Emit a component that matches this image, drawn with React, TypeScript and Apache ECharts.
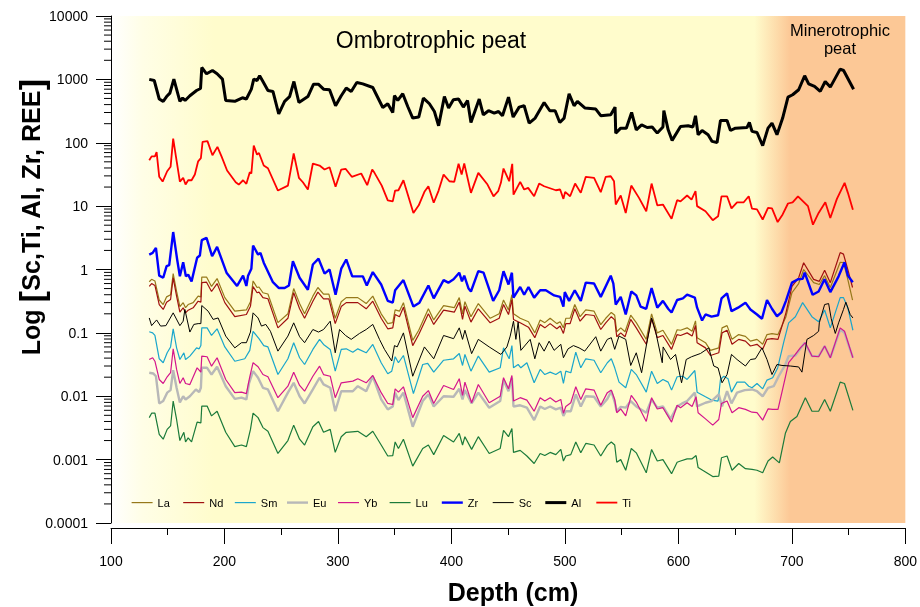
import React, { useEffect, useRef } from "react";
import * as echarts from "echarts";

// Depth (cm) vs concentration pairs
const al: [number, number][] = [[133.7,1000],[138.1,960],[142.5,490],[146,450],[149,535],[151.9,607],[155.4,1010],[160.7,450],[163.1,507],[165.3,465],[169.5,552],[175.4,668],[178.9,718],[180,1540],[184.2,1225],[189.4,1380],[193.5,1225],[198.2,1010],[201.1,465],[209.1,450],[215.8,512],[219.3,490],[223.7,700],[225.8,1010],[228.7,960],[231,1140],[233.9,925],[238.3,668],[242.7,645],[247.8,286],[253,450],[257.4,535],[261.2,925],[265.6,432],[273.5,535],[278.5,840],[282.7,840],[287.3,700],[292.6,686],[297.9,383],[302.9,552],[307.3,728],[311.7,645],[316.6,894],[321.9,850],[330.7,745],[339.5,360],[343.9,412],[348.3,300],[349.8,552],[352.7,465],[357.1,593],[361.5,373],[365.9,245],[371.2,254],[375.3,507],[380.6,412],[385,311],[388.7,185],[393.8,535],[397.5,353],[401.7,476],[406.3,490],[410.5,365],[414.2,465],[417.2,209],[424.5,490],[428.1,276],[432.7,320],[437.7,294],[441.5,311],[445,267],[450.3,525],[454.4,254],[459.7,365],[464.1,383],[468.5,204],[473.8,245],[481.7,432],[486.7,320],[491.4,320],[495.5,209],[499.3,245],[503.7,593],[508.1,383],[511,450],[517.8,353],[527.2,340],[531.6,267],[540.4,276],[544.2,365],[544.8,142],[549.2,170],[554.1,170],[558.8,300],[562.9,160],[567.6,192],[572.5,174],[576.9,177],[581.4,142],[586.4,177],[587.2,323],[591,160],[594.5,109],[601.9,181],[608.6,185],[612.8,177],[615.1,267],[617.4,134],[620.9,156],[626.2,134],[629.7,105],[634.1,101],[637.1,225],[642.9,225],[645.9,156],[650.3,170],[660.5,174],[662.6,209],[664.9,151],[669.3,145],[674.3,90],[679,170],[682.5,204],[686.9,134],[691.9,245],[696.6,525],[700.7,572],[706,686],[711.3,1140],[714.8,850],[720,773],[725,645],[729.4,925],[733.9,755],[742.6,1450],[745.6,1380],[754.4,700]];

const ti: [number, number][] = [[133.7,53],[135.8,61],[138.7,61],[140.2,71],[142.5,29],[145.5,24.4],[149.5,35.5],[152.5,41.7],[154.8,116],[157.2,61],[160.7,24.4],[163.6,28],[165.7,21.9],[168,25.6],[171,25.6],[173.9,31.5],[176.8,51],[179.2,57],[180.7,103],[185,106],[189.4,63.5],[193.8,86],[197.4,61],[202.3,36.5],[209.9,23.8],[212.6,21.9],[216.4,25.6],[219.3,22.5],[222.3,34.3],[223.7,32.7],[225.8,90],[228.7,65],[230.4,69],[234.6,43.7],[238.3,39.6],[247.1,17.6],[255.9,21.1],[261,67.6],[265.6,28],[269.1,23.8],[273.5,18.3],[277.9,47],[283.8,43.7],[288.2,37.8],[292.6,41],[297.9,20.2],[302.9,37.8],[306.7,38.8],[312.2,29],[320.5,32.7],[325.8,21.4],[330.2,37.8],[332.2,33.5],[338.6,21.1],[343.9,12.3],[348.3,11.9],[350.4,17.6],[353.3,17.8],[357.7,25.6],[366.5,7.8],[371.2,10.3],[376.2,16.8],[379.7,20.6],[384.4,11.3],[388.7,17.6],[393.1,31.5],[398.2,24.7],[402.5,24.2],[406.3,46.5],[409,31.5],[411.3,47],[417.2,16.2],[423.7,33.5],[431.8,21.9],[437.1,14.3],[441.2,17.2],[443.6,23.3],[445.9,39.2],[450.9,24.7],[453.6,46.5],[454.7,15.2],[460.6,24.2],[464.1,18.3],[467.6,19.4],[472.9,14.3],[477.3,22.7],[481.7,20.6],[492,17.8],[495.8,18.3],[498.7,13],[500.2,16.8],[504.6,14.3],[509,22.7],[514,16.2],[518.4,29],[525.7,28],[531.6,16.6],[536,29],[540.4,29.6],[543.3,24.7],[544.8,10.6],[549.2,14.7],[553.6,7.8],[558.5,21.1],[565.3,13.5],[571.7,8.3],[576.4,22.7],[581.4,10.3],[586.4,10.6],[594,6.3],[598.9,12.4],[601.9,11.9],[607.7,14.7],[611.6,12.7],[615.1,17.2],[616.5,10],[623.9,8.3],[630.3,6],[635,6.9],[638,14.3],[642.9,14.3],[646.8,9.2],[651.7,11.5],[657.6,11.5],[662,14.3],[664.9,9.1],[669.3,8.9],[674.3,6.15],[679,9.4],[682.5,9.2],[687.5,5.6],[691.9,7.4],[696.6,11],[700.7,11.5],[705.4,14.3],[714.2,10],[718.6,5.1],[723.6,7.8],[729.5,11.5],[733.9,6.5],[739.7,13],[746.5,23.3],[749.4,16.2],[753.8,8.8]];

const zr: [number, number][] = [[133.7,1.72],[136.7,1.83],[139.6,2.2],[142.5,0.8],[146,0.74],[149,1.13],[151.3,1.17],[154.8,3.9],[158.3,1.44],[160.7,0.78],[163.6,1.3],[166,0.78],[168,0.83],[171,0.65],[175.9,1.53],[178.3,1.66],[180,2.9],[184.2,3.16],[189.1,1.62],[193.5,2.28],[201.8,0.89],[211.1,0.55],[216.4,0.8],[219.3,0.55],[220.8,0.8],[223.7,1.03],[225.2,2.39],[229.6,1.72],[231.7,1.83],[234.6,1.28],[242.7,0.63],[248,0.51],[253,0.51],[256.8,0.56],[260.3,1.35],[266.2,0.74],[273.5,0.48],[277.9,1.2],[282.9,1.48],[288.2,0.86],[292.6,1.0],[297.9,0.4],[302.9,1.03],[307.3,1.44],[312.6,0.78],[321.9,0.78],[325.4,0.56],[330.7,0.91],[338.1,0.58],[343.9,0.32],[348.3,0.3],[350.4,0.47],[357.7,0.68],[366.5,0.26],[371.8,0.3],[379.7,0.56],[384.4,0.35],[393.1,0.68],[397.3,0.62],[401.9,0.7],[406.9,0.89],[409.3,0.65],[411.3,0.8],[415.1,0.5],[417.2,0.45],[423.7,0.94],[428.3,0.89],[436.8,0.32],[442.1,0.47],[445.9,0.94],[450.3,0.58],[453.3,0.89],[454.7,0.36],[460.6,0.53],[464.1,0.4],[467.9,0.53],[472.9,0.36],[478.2,0.47],[483.2,0.47],[490.5,0.39],[495.8,0.37],[498.7,0.26],[499.9,0.44],[503.7,0.32],[508.7,0.47],[514,0.32],[518.4,0.62],[525.7,0.6],[531.6,0.37],[540.4,0.8],[542.7,0.6],[544.8,0.28],[549.2,0.37],[553.6,0.195],[558.5,0.45],[562.9,0.39],[566.7,0.26],[571.7,0.24],[576.4,0.51],[581.4,0.25],[586.4,0.32],[591,0.24],[594,0.21],[598.9,0.33],[604,0.35],[607.7,0.4],[614.5,0.36],[616.5,0.25],[620.9,0.157],[623.9,0.195],[629.2,0.18],[635,0.19],[638,0.35],[642.9,0.42],[646.8,0.22],[652.6,0.25],[659.1,0.3],[663.5,0.234],[669.3,0.195],[673.7,0.167],[678.1,0.33],[682.5,0.24],[686.9,0.183],[690.8,0.21],[694.8,0.32],[700.1,0.62],[705.4,0.7],[709.5,0.71],[711.3,0.89],[718.3,0.4],[723.6,0.45],[728.8,0.7],[733.9,0.44],[741.2,0.78],[746.4,1.3],[749.4,0.8],[753.7,0.63]];

const nd: [number, number][] = [[133.7,0.54],[135.8,0.6],[138.7,0.56],[142.5,0.28],[146,0.234],[149,0.305],[152.5,0.336],[154.8,0.74],[157.8,0.38],[160.7,0.212],[163.6,0.249],[165.7,0.207],[168,0.228],[172.4,0.249],[176.8,0.316],[179.2,0.305],[180,0.62],[184.2,0.63],[188.6,0.45],[193.5,0.6],[200.3,0.3],[209.1,0.18],[219.3,0.195],[222.9,0.264],[225.2,0.54],[228.7,0.43],[230.4,0.44],[233.9,0.36],[238.3,0.345],[247.1,0.12],[255.9,0.17],[261,0.43],[266.2,0.24],[270.6,0.17],[277.9,0.316],[282.3,0.44],[287.3,0.345],[292,0.345],[297.6,0.14],[302.9,0.26],[307.3,0.3],[317.5,0.3],[324.9,0.24],[330.7,0.316],[338.1,0.17],[343.9,0.116],[348.3,0.12],[350.4,0.195],[354.2,0.18],[357.7,0.254],[365.9,0.063],[371.2,0.094],[379.7,0.2],[384.4,0.136],[393.1,0.228],[402.5,0.212],[406.9,0.305],[409.8,0.163],[411.9,0.264],[417.2,0.148],[423.7,0.24],[434.2,0.144],[442.1,0.17],[445.9,0.28],[450.3,0.195],[453.3,0.336],[454.7,0.163],[460.6,0.144],[467.9,0.123],[473.5,0.084],[478.2,0.136],[482.3,0.12],[487,0.14],[492.9,0.116],[495.8,0.128],[498.7,0.098],[500.8,0.14],[504.6,0.14],[508.7,0.24],[513.4,0.153],[518.4,0.195],[525.7,0.188],[531.6,0.113],[536,0.144],[540.9,0.18],[543.9,0.16],[545.7,0.087],[549.2,0.1],[553,0.087],[558,0.163],[562.9,0.12],[571.7,0.066],[576.4,0.167],[581.4,0.084],[586.4,0.091],[594,0.055],[598.9,0.094],[601.9,0.091],[607.7,0.1],[612.1,0.089],[615.1,0.131],[616.5,0.07],[623.9,0.058],[628.3,0.044],[635.6,0.0485],[638.5,0.1],[642.9,0.11],[647.3,0.066],[653.2,0.079],[659.1,0.074],[663.5,0.062],[669.3,0.066],[674.3,0.055],[678.1,0.079],[682.5,0.081],[687.8,0.079],[694.8,0.207],[700.1,0.54],[706,0.74],[710.4,1.28],[719.2,0.7],[724.2,0.65],[728.9,0.97],[733.9,0.62],[742.6,1.85],[745.5,1.75],[749.3,1.0],[753.5,0.52]];

const la: [number, number][] = [[133.7,0.64],[135.8,0.7],[138.7,0.66],[142.5,0.33],[146,0.28],[149,0.37],[152.5,0.4],[154.8,0.86],[157.8,0.45],[160.7,0.26],[163.6,0.3],[165.7,0.25],[168,0.28],[172.4,0.3],[176.8,0.38],[179.2,0.37],[180,0.76],[184.2,0.76],[188.6,0.54],[193.5,0.72],[200.3,0.36],[209.1,0.22],[219.3,0.23],[222.9,0.31],[225.2,0.66],[228.7,0.52],[230.4,0.53],[233.9,0.43],[238.3,0.41],[247.1,0.145],[255.9,0.2],[261,0.5],[266.2,0.29],[270.6,0.2],[277.9,0.38],[282.3,0.52],[287.3,0.41],[292,0.41],[297.6,0.17],[302.9,0.31],[307.3,0.36],[317.5,0.36],[324.9,0.29],[330.7,0.38],[338.1,0.2],[343.9,0.14],[348.3,0.145],[350.4,0.23],[354.2,0.22],[357.7,0.3],[365.9,0.076],[371.2,0.11],[379.7,0.24],[384.4,0.16],[393.1,0.27],[402.5,0.25],[406.9,0.36],[409.8,0.2],[411.9,0.31],[417.2,0.18],[423.7,0.29],[434.2,0.17],[442.1,0.2],[445.9,0.33],[450.3,0.23],[453.3,0.4],[454.7,0.2],[460.6,0.17],[467.9,0.15],[473.5,0.1],[478.2,0.16],[482.3,0.145],[487,0.17],[492.9,0.14],[495.8,0.15],[498.7,0.12],[500.8,0.17],[504.6,0.17],[508.7,0.28],[513.4,0.18],[518.4,0.23],[525.7,0.22],[531.6,0.135],[536,0.17],[540.9,0.21],[543.9,0.19],[545.7,0.104],[549.2,0.12],[553,0.104],[558,0.19],[562.9,0.145],[571.7,0.079],[576.4,0.2],[581.4,0.1],[586.4,0.11],[594,0.066],[598.9,0.112],[601.9,0.11],[607.7,0.12],[612.1,0.106],[615.1,0.155],[616.5,0.084],[623.9,0.07],[628.3,0.053],[635.6,0.058],[638.5,0.12],[642.9,0.13],[647.3,0.079],[653.2,0.094],[659.1,0.088],[663.5,0.074],[669.3,0.079],[674.3,0.066],[678.1,0.094],[682.5,0.097],[687.8,0.094],[694.8,0.18],[700.1,0.43],[706,0.6],[710.4,1.0],[719.2,0.62],[724.2,0.58],[728.9,0.8],[733.9,0.52],[742.6,1.3],[745.5,1.28],[749.3,0.7],[753.5,0.33]];

const sc: [number, number][] = [[133.7,0.172],[135.8,0.13],[140.2,0.16],[143.7,0.128],[148.4,0.13],[154.8,0.207],[160.7,0.13],[163.6,0.153],[165.1,0.234],[169.5,0.103],[173,0.136],[176.8,0.14],[179.2,0.14],[180,0.27],[185.6,0.22],[190,0.163],[194.4,0.172],[201.1,0.089],[209.1,0.058],[215,0.07],[219.3,0.07],[222.9,0.103],[225.2,0.207],[229.6,0.172],[232.6,0.128],[236.4,0.136],[240.5,0.106],[247.1,0.0515],[255.9,0.089],[261,0.144],[266.2,0.087],[270.6,0.07],[277.9,0.113],[282.9,0.103],[287.3,0.113],[293.2,0.153],[297.6,0.0485],[301.4,0.113],[306.7,0.091],[311.7,0.079],[319,0.098],[324.9,0.113],[330.7,0.136],[336.6,0.079],[341,0.055],[347.4,0.036],[349.8,0.063],[352.2,0.06],[357.7,0.1],[365.9,0.0207],[376.2,0.06],[384.4,0.039],[393.1,0.091],[401.9,0.081],[406.9,0.12],[409.8,0.079],[411.9,0.11],[417.8,0.047],[423.7,0.079],[433.3,0.06],[443.6,0.0457],[448.9,0.06],[451.8,0.089],[454.7,0.153],[456.8,0.079],[458.8,0.148],[461.2,0.053],[469.4,0.079],[473.5,0.039],[477.3,0.07],[481.7,0.0515],[486.1,0.074],[490.5,0.053],[496.4,0.066],[498.7,0.0405],[502.8,0.056],[507.5,0.063],[512.5,0.058],[517.5,0.0515],[527.2,0.087],[531.6,0.0515],[537.4,0.079],[540.9,0.084],[543.9,0.055],[547.7,0.089],[553.6,0.079],[558,0.0306],[562.9,0.0485],[567.6,0.0235],[571.7,0.062],[576.4,0.172],[579.9,0.106],[585.8,0.0338],[586.6,0.06],[593.1,0.038],[597.5,0.0457],[602.8,0.0163],[606.9,0.038],[611.6,0.042],[619.5,0.0473],[626.8,0.058],[631.2,0.03],[635,0.028],[638.5,0.0163],[642.9,0.022],[646.8,0.0457],[651.7,0.038],[659.1,0.03],[663.5,0.038],[667.9,0.039],[673.7,0.058],[678.1,0.038],[682.5,0.022],[686.9,0.0317],[691.3,0.0306],[698.7,0.03],[706,0.029],[708.9,0.024],[713.3,0.079],[719.2,0.091],[723.6,0.106],[724.2,0.144],[728.9,0.28],[732.4,0.29],[734.7,0.167],[738.3,0.098],[741.2,0.144],[745.5,0.234],[747.6,0.305],[751.4,0.195],[753.8,0.172]];

const sm: [number, number][] = [[133.7,0.104],[136.7,0.1],[138.7,0.091],[142.5,0.039],[146,0.0338],[149.5,0.0485],[152.5,0.06],[154.8,0.116],[157.8,0.058],[160.7,0.038],[164.2,0.0485],[165.7,0.038],[169.5,0.043],[175.4,0.058],[177.7,0.056],[179.2,0.063],[180,0.12],[184.7,0.12],[188.6,0.091],[193.5,0.116],[200.3,0.06],[209.1,0.0357],[217.9,0.039],[222.3,0.053],[225.2,0.106],[230.4,0.081],[234.6,0.063],[238.3,0.06],[247.1,0.022],[255.9,0.039],[261,0.07],[266.2,0.0405],[270.6,0.0317],[277.9,0.0548],[283.8,0.079],[287.3,0.0656],[293.2,0.0548],[297.6,0.0249],[302.9,0.0548],[307.3,0.056],[313.1,0.0496],[317.5,0.056],[324.9,0.0485],[330.7,0.0656],[338.1,0.0338],[343.9,0.0226],[347.4,0.0249],[350.4,0.042],[353.3,0.0338],[357.7,0.044],[366.5,0.011],[374.7,0.0317],[379.1,0.033],[384.4,0.024],[393.1,0.037],[401.9,0.039],[406.9,0.0473],[409.8,0.0306],[411.9,0.0456],[417.2,0.0249],[423.7,0.043],[433.3,0.024],[443,0.0281],[445.9,0.058],[450.9,0.039],[453.3,0.063],[454.7,0.0281],[458.8,0.0317],[461.2,0.0281],[466.5,0.0338],[472.9,0.0163],[478.2,0.0265],[482.3,0.022],[487,0.024],[492,0.022],[496.4,0.0249],[498.7,0.0159],[500.8,0.0249],[505.2,0.0235],[509.6,0.0496],[514,0.0281],[518.4,0.039],[525.7,0.037],[531.6,0.0235],[537.4,0.0338],[540.9,0.039],[543.9,0.0281],[547.7,0.0167],[553.6,0.0136],[558.5,0.0265],[562.9,0.022],[571.7,0.0116],[576.4,0.0249],[581.4,0.0159],[586.4,0.0184],[591,0.0167],[594,0.0125],[598.9,0.0203],[604,0.0207],[607.7,0.0184],[614.5,0.0255],[616.5,0.0116],[623.9,0.0098],[629.2,0.0087],[635,0.0084],[637.1,0.0184],[640,0.0207],[643.8,0.0189],[646.8,0.0116],[651.7,0.0167],[658.5,0.0167],[662,0.0144],[664.9,0.0136],[669.3,0.0159],[674.3,0.0131],[678.1,0.018],[683.1,0.0196],[687.5,0.028],[692.8,0.071],[697.2,0.144],[703.1,0.18],[709.5,0.3],[717.7,0.18],[723.6,0.15],[728.9,0.23],[733.9,0.12],[742.6,0.36],[745.5,0.36],[749.3,0.25],[753.8,0.11]];

const eu: [number, number][] = [[133.7,0.0235],[137.2,0.0229],[139.6,0.0207],[142.5,0.0077],[146,0.0084],[149.5,0.0114],[152.5,0.0125],[154.8,0.0258],[157.8,0.0136],[160.7,0.008],[163.6,0.01],[165.7,0.0089],[169.5,0.01],[174.8,0.0128],[177.7,0.0116],[179.2,0.0136],[180,0.0281],[184.7,0.0281],[188.6,0.022],[193.5,0.0292],[201.1,0.0144],[209.1,0.0091],[215,0.0095],[219.3,0.0089],[221.6,0.0159],[225.2,0.0249],[229.6,0.0196],[233.9,0.0136],[238.3,0.0128],[247.1,0.0058],[255.9,0.0114],[261,0.0163],[266.2,0.01],[270.6,0.0077],[277.9,0.0128],[283.8,0.0196],[287.3,0.0154],[293.2,0.0136],[297.6,0.0058],[302.9,0.012],[313.1,0.012],[317.5,0.0144],[324.9,0.012],[330.7,0.0207],[338.1,0.0089],[343.9,0.0062],[348.3,0.0069],[350.4,0.0114],[353.3,0.0087],[357.7,0.0114],[365.9,0.0033],[374.7,0.0084],[379.7,0.0107],[384.4,0.0069],[393.1,0.01],[401.9,0.0098],[406.9,0.0131],[409.8,0.0089],[411.9,0.0125],[417.8,0.0077],[423.7,0.0114],[433.3,0.0066],[443,0.0084],[445.9,0.018],[450.3,0.012],[453.3,0.0196],[454.7,0.0069],[460.6,0.0072],[466.5,0.0066],[472.9,0.0042],[478.2,0.0069],[482.3,0.0063],[487,0.0069],[492,0.0062],[496.4,0.0066],[498.7,0.0049],[500.8,0.0058],[505.2,0.0058],[509.6,0.0107],[514,0.0069],[518.4,0.01],[525.7,0.0098],[531.6,0.0069],[537.4,0.0091],[540.9,0.012],[543.9,0.0081],[545.7,0.0058],[549.2,0.0068],[553.6,0.0066],[558,0.0084],[562.9,0.0069],[571.7,0.0055],[576.4,0.0089],[581.4,0.0066],[586.4,0.0069],[593.1,0.0044],[598.9,0.0069],[603.3,0.0077],[607.7,0.0084],[614.5,0.0114],[616.5,0.0069],[623.9,0.0079],[629.2,0.0084],[635.6,0.0107],[638.5,0.0069],[642.9,0.012],[646.8,0.0077],[651.7,0.0114],[658.5,0.0125],[664.9,0.0128],[669.3,0.012],[674.3,0.01],[679,0.0136],[684,0.0144],[688.4,0.0207],[694.3,0.0317],[697.2,0.043],[703.1,0.044],[711.3,0.07],[717.7,0.043],[723.6,0.043],[728.9,0.062],[733.9,0.0405],[742.6,0.113],[746.4,0.1],[753.8,0.0405]];

const yb: [number, number][] = [[133.7,0.038],[136.7,0.0405],[138.7,0.0357],[142.5,0.0184],[146,0.0159],[149.5,0.0203],[152.5,0.0235],[154.8,0.056],[157.8,0.0265],[160.7,0.0159],[163.6,0.0196],[165.7,0.0159],[169.5,0.0153],[175.9,0.0281],[179.2,0.024],[180,0.043],[184.7,0.042],[188.6,0.0298],[193.5,0.0405],[201.1,0.0184],[209.1,0.0114],[215,0.0116],[219.3,0.011],[222.3,0.0203],[225.2,0.0338],[229.6,0.0292],[233.9,0.022],[238.3,0.0203],[247.1,0.0095],[255.9,0.0144],[261,0.024],[266.2,0.0148],[270.6,0.012],[277.9,0.0207],[283.8,0.0298],[287.3,0.022],[293.2,0.0207],[297.6,0.0095],[302.9,0.0163],[313.1,0.0173],[317.5,0.0189],[324.9,0.0163],[330.7,0.0213],[338.1,0.0114],[343.9,0.0077],[348.3,0.0074],[350.4,0.0131],[353.3,0.0116],[357.7,0.0141],[365.9,0.0046],[374.7,0.01],[379.7,0.0123],[384.4,0.0077],[393.1,0.0148],[401.9,0.0128],[406.9,0.0189],[409.8,0.0103],[411.9,0.0167],[417.8,0.0079],[423.7,0.0153],[433.3,0.0079],[443,0.01],[445.9,0.0196],[450.3,0.0131],[453.3,0.0213],[454.7,0.0084],[460.6,0.0095],[466.5,0.0087],[472.9,0.0058],[478.2,0.0095],[482.3,0.0084],[487,0.0095],[492,0.0081],[496.4,0.0089],[498.7,0.0054],[500.8,0.0069],[505.2,0.0079],[509.6,0.0141],[514,0.0089],[518.4,0.0131],[525.7,0.0125],[531.6,0.0072],[537.4,0.0114],[540.9,0.0125],[543.9,0.0089],[545.7,0.0055],[549.2,0.0063],[553.6,0.0049],[558.5,0.0103],[562.9,0.0081],[571.7,0.004],[576.4,0.0095],[581.4,0.0063],[586.4,0.0066],[594,0.0039],[598.9,0.0072],[601.9,0.0066],[607.7,0.0079],[612.1,0.0069],[615.6,0.0098],[617.4,0.0055],[623.9,0.0044],[630.3,0.0035],[635.6,0.0043],[638,0.0077],[642.9,0.0084],[647.3,0.0055],[653.2,0.0066],[659.1,0.0062],[664.9,0.0056],[669.3,0.0055],[674.3,0.0042],[679,0.0063],[683.1,0.0062],[687.8,0.0062],[692.8,0.0153],[697.2,0.0338],[703.1,0.0457],[707.5,0.058],[711.9,0.07],[717.7,0.043],[723.6,0.042],[728.9,0.062],[733.9,0.0405],[742.6,0.12],[746.4,0.106],[753.8,0.0405]];

const lu: [number, number][] = [[133.7,0.0046],[135.8,0.0054],[138.7,0.0054],[142.5,0.0025],[146,0.0021],[149.5,0.003],[152.5,0.0034],[154.8,0.0084],[157.8,0.0043],[160.7,0.002],[164.2,0.0027],[165.7,0.0019],[168,0.0022],[171,0.0019],[175.9,0.0039],[179.2,0.0038],[180,0.007],[184.7,0.007],[188.6,0.0049],[193.5,0.0058],[201.1,0.0027],[209.1,0.0016],[215,0.0017],[219.3,0.0016],[222.9,0.003],[225.2,0.0054],[229.6,0.0046],[233.9,0.0032],[238.3,0.0028],[247.1,0.00125],[255.9,0.002],[261,0.0035],[266.2,0.0021],[270.6,0.0017],[277.9,0.0033],[282.9,0.004],[287.3,0.0027],[293.2,0.003],[297.6,0.0013],[302.9,0.0023],[307.3,0.0027],[317.5,0.0028],[324.9,0.0023],[330.7,0.0028],[338.1,0.0017],[343.9,0.00114],[348.3,0.00116],[350.4,0.0019],[353.3,0.0015],[357.7,0.0021],[365.9,0.00079],[374.7,0.0015],[379.7,0.0017],[384.4,0.0012],[393.1,0.0024],[401.9,0.0019],[406.9,0.0026],[409.8,0.0017],[411.9,0.0023],[417.8,0.00145],[423.7,0.0023],[433.3,0.00125],[443,0.0015],[445.9,0.0029],[450.3,0.0023],[453.3,0.0031],[454.7,0.0013],[460.6,0.0014],[466.5,0.00114],[472.9,0.00087],[478.2,0.00125],[482.3,0.00116],[487,0.0013],[492,0.0012],[496.4,0.00145],[498.7,0.00095],[500.8,0.00114],[505.2,0.0012],[509.6,0.0019],[514,0.00128],[518.4,0.0018],[525.7,0.0017],[531.6,0.00114],[537.4,0.00168],[540.9,0.0019],[543.9,0.0017],[545.7,0.00091],[549.2,0.001],[553.6,0.00068],[558.5,0.0015],[562.9,0.00128],[571.7,0.00062],[576.4,0.00145],[581.4,0.00095],[586.4,0.001],[594,0.0006],[598.9,0.00091],[601.9,0.00095],[607.7,0.00103],[612.1,0.00103],[615.6,0.00116],[617.4,0.00075],[623.9,0.00064],[630.3,0.00054],[635.6,0.00055],[638,0.00107],[642.9,0.00114],[647.3,0.00068],[653.2,0.00087],[659.1,0.00072],[664.9,0.0007],[669.3,0.00068],[674.3,0.00062],[679,0.00095],[683.1,0.0011],[689,0.00089],[694.3,0.0026],[698.7,0.004],[704.5,0.0048],[711.9,0.0095],[717.7,0.0058],[723.6,0.0058],[728.9,0.0089],[733.9,0.0058],[742.6,0.0167],[746.4,0.0159],[753.8,0.006]];

const seriesNames = ["La", "Nd", "Sm", "Eu", "Yb", "Lu", "Zr", "Sc", "Al", "Ti"];
const seriesData = [la, nd, sm, eu, yb, lu, zr, sc, al, ti];
const seriesColors = ["#96781A", "#A01010", "#1AA6CC", "#B8B8B8", "#D4168C", "#1B7A3A", "#0000FF", "#000000", "#000000", "#FF0000"];
const seriesWidths = [1.2, 1.2, 1.2, 2.4, 1.2, 1.2, 2.4, 1, 3, 1.8];

const yMajorLabels = ["0.0001", "0.001", "0.01", "0.1", "1", "10", "100", "1000", "10000"];
const yMinorMultipliers = [2, 3, 4, 5, 6, 7, 8, 9];

const FONT = "Arial, 'Liberation Sans', Helvetica, sans-serif";

export default function App() {
  const ref = useRef<HTMLDivElement>(null);
  useEffect(() => {
    if (!ref.current) return;
    const chart = echarts.init(ref.current, undefined, { renderer: "svg" });

    const minorVals: number[][] = [];
    for (let e = -4; e < 4; e++) {
      for (const k of yMinorMultipliers) minorVals.push([100, Number((k * Math.pow(10, e)).toPrecision(3))]);
    }

    const bg = new echarts.graphic.LinearGradient(0, 0, 1, 0, [
      { offset: 0, color: "#FFFFFF" },
      { offset: 0.04, color: "#FFFEE6" },
      { offset: 0.13, color: "#FFFCCC" },
      { offset: 0.81, color: "#FFFCCC" },
      { offset: 0.855, color: "#FCC896" },
      { offset: 1, color: "#FCC896" },
    ]);

    const lineSeries = seriesNames.map((name, i) => ({
      name,
      type: "line",
      data: seriesData[i],
      showSymbol: false,
      symbol: "none",
      silent: true,
      lineStyle: { color: seriesColors[i], width: seriesWidths[i] },
      itemStyle: { color: seriesColors[i] },
    }));

    const legends = seriesNames.map((name, i) => ({
      left: 131 + i * 51.6,
      top: 497,
      itemWidth: 21,
      itemHeight: 14,
      itemGap: 0,
      padding: 0,
      itemStyle: { opacity: 0 },
      lineStyle: { width: Math.min(seriesWidths[i], 3), color: seriesColors[i] },
      textStyle: { fontSize: 11, color: "#000", fontFamily: FONT },
      data: [name],
    }));

    const option: any = {
      animation: false,
      grid: { left: 111, right: 13, top: 16, bottom: 84, show: true, backgroundColor: bg, borderWidth: 0 },
      xAxis: {
        type: "value",
        min: 100,
        max: 800,
        interval: 100,
        offset: 5,
        axisLine: { show: true, lineStyle: { color: "#000", width: 1 } },
        axisTick: { show: true, length: 16, lineStyle: { color: "#000" } },
        minorTick: { show: true, splitNumber: 2, length: 7, lineStyle: { color: "#000" } },
        axisLabel: { fontSize: 14, color: "#000", margin: 26, fontFamily: FONT },
        splitLine: { show: false },
        minorSplitLine: { show: false },
      },
      yAxis: {
        type: "log",
        logBase: 10,
        min: 0.0001,
        max: 10000,
        axisLine: { show: true, lineStyle: { color: "#000", width: 1 } },
        axisTick: { show: true, length: 15, lineStyle: { color: "#000" } },
        axisLabel: {
          fontSize: 14,
          color: "#000",
          margin: 23,
          fontFamily: FONT,
          formatter: (v: number) => {
            const e = Math.round(Math.log10(v));
            return yMajorLabels[e + 4] ?? String(v);
          },
        },
        splitLine: { show: false },
      },
      legend: legends,
      series: [
        ...lineSeries,
        {
          type: "custom",
          name: "yMinorTicks",
          data: minorVals,
          clip: false,
          silent: true,
          z: 10,
          renderItem: (_params: any, api: any) => {
            const p = api.coord([api.value(0), api.value(1)]);
            return {
              type: "line",
              shape: { x1: p[0] - 7, y1: p[1], x2: p[0], y2: p[1] },
              style: { stroke: "#000", lineWidth: 1 },
            };
          },
        },
      ],
      graphic: [
        {
          type: "text",
          x: 431,
          y: 40,
          style: { text: "Ombrotrophic peat", fontSize: 23, fontFamily: FONT, fill: "#000", align: "center", verticalAlign: "middle" },
        },
        {
          type: "text",
          x: 840,
          y: 30,
          style: { text: "Minerotrophic", fontSize: 16.5, fontFamily: FONT, fill: "#000", align: "center", verticalAlign: "middle" },
        },
        {
          type: "text",
          x: 840,
          y: 48,
          style: { text: "peat", fontSize: 16.5, fontFamily: FONT, fill: "#000", align: "center", verticalAlign: "middle" },
        },
        {
          type: "text",
          x: 31,
          y: 217,
          rotation: Math.PI / 2,
          style: {
            text: "Log {b|[}Sc,Ti, Al, Zr, REE{b|]}",
            fontSize: 25,
            fontWeight: "bold",
            fontFamily: FONT,
            fill: "#000",
            align: "center",
            verticalAlign: "middle",
            rich: { b: { fontSize: 34, fontWeight: "bold", fontFamily: FONT, fill: "#000" } },
          },
        },
        {
          type: "text",
          x: 513,
          y: 592,
          style: { text: "Depth (cm)", fontSize: 25, fontWeight: "bold", fontFamily: FONT, fill: "#000", align: "center", verticalAlign: "middle" },
        },
      ],
    };
    chart.setOption(option);
    return () => chart.dispose();
  }, []);

  return <div ref={ref} style={{ position: "fixed", left: 0, top: 0, width: 920, height: 607 }} />;
}
